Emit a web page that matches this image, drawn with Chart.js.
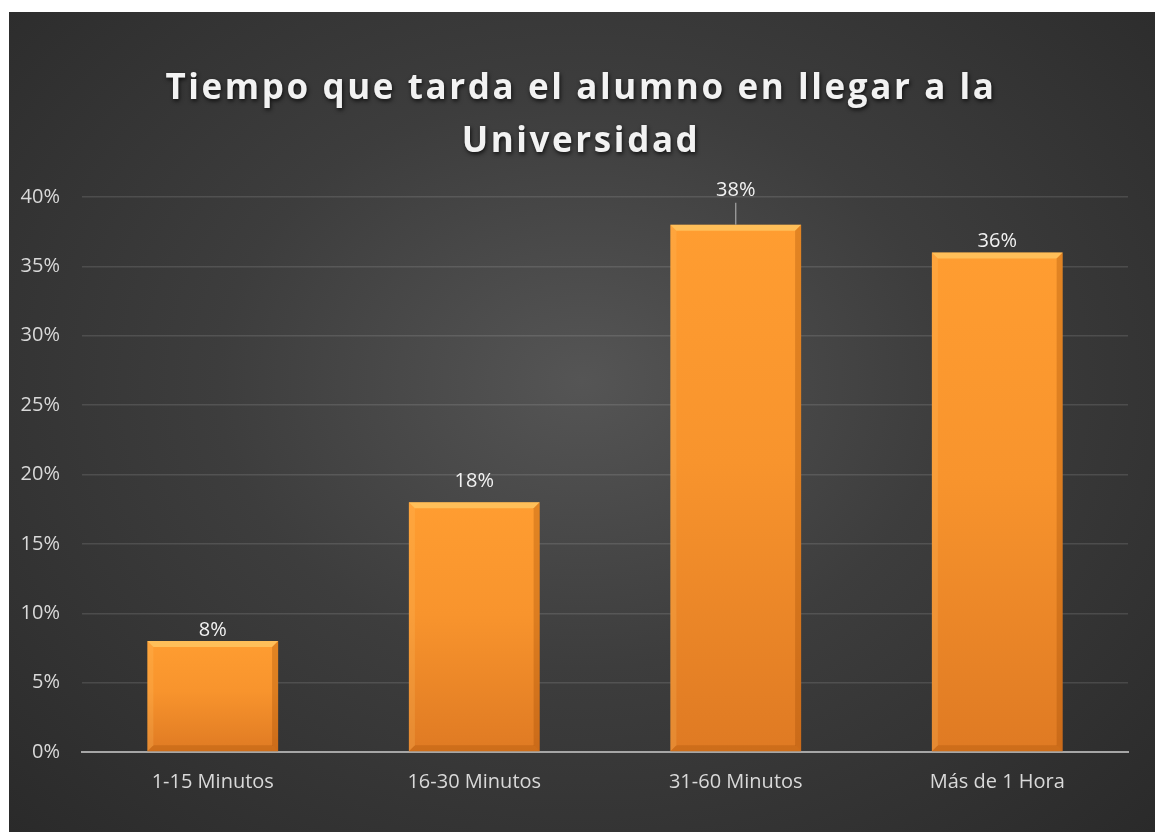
<!DOCTYPE html>
<html lang="es">
<head>
    <meta charset="UTF-8">
    <title>Tiempo que tarda el alumno en llegar a la Universidad</title>
    <script src="https://cdn.jsdelivr.net/npm/chart.js@4.4.1/dist/chart.umd.min.js"></script>
    <style>
        html, body { margin: 0; padding: 0; background: #ffffff; }
        #box {
            position: absolute; left: 9px; top: 12px; width: 1146px; height: 820px;
            background: radial-gradient(ellipse at 50% 45%, #555555 0%, #3d3d3d 45%, #2a2a2a 100%);
        }
    </style>
</head>
<body>
    <div id="box"><canvas id="chart" width="1146" height="820"></canvas></div>

    <script>
        const titleLines = ['Tiempo que tarda el alumno en llegar a la', 'Universidad'];
        const categories = ['1-15 Minutos', '16-30 Minutos', '31-60 Minutos', 'Más de 1 Hora'];
        const percentages = [8, 18, 38, 36];
        const yTicks = [0, 5, 10, 15, 20, 25, 30, 35, 40];

        const titlePlugin = {
            id: 'titlePlugin',
            afterDraw(chart) {
                const ctx = chart.ctx;
                ctx.save();
                ctx.font = 'bold 35px "Open Sans"';
                ctx.letterSpacing = '2.6px';
                ctx.textAlign = 'center';
                ctx.textBaseline = 'middle';
                ctx.fillStyle = '#f2f2f2';
                ctx.shadowColor = 'rgba(0,0,0,0.75)';
                ctx.shadowBlur = 4;
                ctx.shadowOffsetX = 1;
                ctx.shadowOffsetY = 2;
                ctx.fillText(titleLines[0], 572, 77);
                ctx.fillText(titleLines[1], 572, 130);
                ctx.restore();
            }
        };

        // bevel edges and value labels on the bars
        const barPlugin = {
            id: 'barPlugin',
            afterDatasetsDraw(chart) {
                const ctx = chart.ctx;
                const meta = chart.getDatasetMeta(0);
                ctx.save();
                meta.data.forEach((bar, i) => {
                    const l = bar.x - bar.width / 2, r = bar.x + bar.width / 2;
                    const t = bar.y, b = bar.base, e = 6;
                    ctx.fillStyle = 'rgba(255,225,130,0.5)';
                    ctx.beginPath();
                    ctx.moveTo(l, t); ctx.lineTo(r, t); ctx.lineTo(r - e, t + e); ctx.lineTo(l + e, t + e);
                    ctx.fill();
                    ctx.fillStyle = 'rgba(150,70,0,0.28)';
                    ctx.beginPath();
                    ctx.moveTo(r, t); ctx.lineTo(r, b); ctx.lineTo(r - e, b - e); ctx.lineTo(r - e, t + e);
                    ctx.fill();
                    ctx.fillStyle = 'rgba(150,70,0,0.25)';
                    ctx.beginPath();
                    ctx.moveTo(l, b); ctx.lineTo(r, b); ctx.lineTo(r - e, b - e); ctx.lineTo(l + e, b - e);
                    ctx.fill();
                    ctx.fillStyle = 'rgba(255,200,110,0.2)';
                    ctx.beginPath();
                    ctx.moveTo(l, t); ctx.lineTo(l + e, t + e); ctx.lineTo(l + e, b - e); ctx.lineTo(l, b);
                    ctx.fill();

                    ctx.font = '20px "Open Sans"';
                    ctx.fillStyle = '#f2f2f2';
                    ctx.textAlign = 'center';
                    ctx.textBaseline = 'bottom';
                    let lift = 1;
                    if (i === 1) lift = 11;
                    if (i === 2) {
                        lift = 24;
                        ctx.strokeStyle = '#a6a6a6';
                        ctx.lineWidth = 1.2;
                        ctx.beginPath();
                        ctx.moveTo(bar.x, t);
                        ctx.lineTo(bar.x, t - 22);
                        ctx.stroke();
                    }
                    ctx.fillText(percentages[i] + '%', bar.x, t - lift);
                });
                ctx.restore();
            }
        };

        new Chart(document.getElementById('chart'), {
            type: 'bar',
            data: {
                labels: categories,
                datasets: [{
                    data: percentages,
                    backgroundColor(context) {
                        const chart = context.chart;
                        const ys = chart.scales.y;
                        if (!chart.chartArea || !ys || context.raw === undefined) return '#f7962f';
                        const top = ys.getPixelForValue(context.raw);
                        const bottom = ys.getPixelForValue(0);
                        const g = chart.ctx.createLinearGradient(0, top, 0, bottom);
                        g.addColorStop(0, '#ff9d31');
                        g.addColorStop(0.45, '#f8942d');
                        g.addColorStop(1, '#df7a23');
                        return g;
                    },
                    borderWidth: 0,
                    categoryPercentage: 1,
                    barPercentage: 0.5
                }]
            },
            options: {
                responsive: false,
                animation: false,
                layout: { padding: { top: 185, right: 27, bottom: 0, left: 0 } },
                plugins: { legend: { display: false }, tooltip: { enabled: false } },
                scales: {
                    x: {
                        grid: { display: false, drawTicks: false },
                        border: { color: '#a6a6a6', width: 2 },
                        ticks: { color: '#d9d9d9', font: { family: 'Open Sans', size: 20 }, padding: 18 },
                        afterFit(scale) { scale.height = 80; }
                    },
                    y: {
                        min: 0, max: 40,
                        afterBuildTicks(scale) { scale.ticks = yTicks.map(v => ({ value: v })); },
                        grid: { color: 'rgba(217,217,217,0.15)', lineWidth: 1.5, drawTicks: false },
                        border: { display: false },
                        ticks: {
                            color: '#d9d9d9', font: { family: 'Open Sans', size: 20 }, padding: 22,
                            callback: v => v + '%'
                        },
                        afterFit(scale) { scale.width = 73; }
                    }
                }
            },
            plugins: [titlePlugin, barPlugin]
        });
    </script>
</body>
</html>
